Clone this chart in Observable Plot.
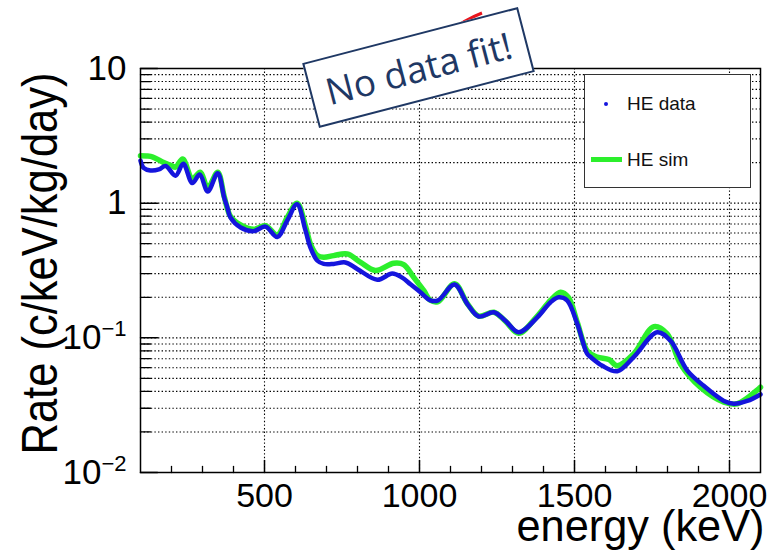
<!DOCTYPE html>
<html>
<head>
<meta charset="utf-8">
<script src="https://cdn.jsdelivr.net/npm/d3@7"></script>
<script src="https://cdn.jsdelivr.net/npm/@observablehq/plot@0.6"></script>
<style>
  body { margin: 0; background: #fff; }
  #chart { position: relative; width: 769px; height: 553px; overflow: hidden; font-family: "Liberation Sans", Arial, sans-serif; }
  #chart svg { display: block; }
  .legend { position: absolute; left: 584px; top: 74px; width: 165px; height: 112px; border: 1.5px solid #333; background: #fff; }
  .legend .row { position: absolute; left: 0; width: 100%; height: 24px; }
  .legend .lab { position: absolute; left: 42px; top: 0; line-height: 24px; font-size: 19px; color: #111; }
  .legend .dot { position: absolute; left: 19px; top: 10px; width: 4px; height: 4px; border-radius: 50%; background: #1515dd; }
  .legend .bar { position: absolute; left: 6px; top: 9px; width: 31px; height: 5px; background: #2cef2c; }
  .stamp { position: absolute; left: 307px; top: 34px; width: 219px; height: 63px; border: 2px solid #1f3864; background: #fff;
           transform: rotate(-14.6deg); color: #1f3864; font-family: "Open Sans", "Liberation Sans", sans-serif; font-size: 37px;
           display: flex; align-items: center; justify-content: center; }
  .peek { position: absolute; left: 0; top: 0; }
</style>
</head>
<body>
<div id="chart"></div>
<script>
// HE data: energy (keV) and rate (c/keV/kg/day)
const dataEnergy = [100, 110, 132, 159, 181, 213, 238, 267, 291, 317, 349, 370, 380, 390, 423, 465, 503, 541, 573, 605,
  632, 648, 670, 691, 723, 761, 799, 864, 912, 944, 971, 1003, 1035, 1060, 1113, 1154, 1191, 1240, 1277, 1320,
  1380, 1423, 1449, 1476, 1509, 1541, 1552, 1590, 1638, 1691, 1767, 1810, 1864, 1917, 1982, 2014, 2057, 2100];
const dataRate = [2.07, 1.83, 1.75, 1.78, 1.89, 1.60, 1.96, 1.41, 1.63, 1.22, 1.67, 1.10, 0.93, 0.785, 0.66, 0.62, 0.67, 0.56, 0.74, 0.98,
  0.63, 0.47, 0.375, 0.354, 0.354, 0.363, 0.325, 0.27, 0.30, 0.28, 0.25, 0.218, 0.19, 0.19, 0.249, 0.179, 0.144, 0.155, 0.134, 0.110,
  0.142, 0.184, 0.20, 0.19, 0.127, 0.076, 0.072, 0.062, 0.0565, 0.072, 0.110, 0.095, 0.057, 0.044, 0.034, 0.0324, 0.034, 0.038];

// HE simulation
const simEnergy = [100, 120, 140, 175, 200, 213, 236, 267, 293, 317, 349, 370, 390, 423, 465, 503, 541, 573, 605,
  632, 648, 670, 691, 723, 767, 810, 858, 917, 949, 982, 1014, 1035, 1060, 1113, 1154, 1191, 1240, 1277, 1320,
  1380, 1423, 1455, 1480, 1509, 1541, 1573, 1611, 1638, 1691, 1756, 1799, 1842, 1906, 1982, 2025, 2095, 2100];
const simRate = [2.25, 2.24, 2.20, 2.00, 1.90, 1.85, 2.13, 1.52, 1.70, 1.30, 1.70, 1.12, 0.80, 0.69, 0.64, 0.68, 0.58, 0.78, 1.00,
  0.68, 0.50, 0.41, 0.396, 0.408, 0.42, 0.363, 0.316, 0.358, 0.35, 0.28, 0.224, 0.19, 0.186, 0.252, 0.18, 0.145, 0.155, 0.133, 0.108,
  0.145, 0.19, 0.218, 0.20, 0.13, 0.080, 0.072, 0.069, 0.062, 0.076, 0.121, 0.107, 0.064, 0.043, 0.0333, 0.0324, 0.042, 0.043];

// Axis ticks
const yMajor = [0.01, 0.1, 1, 10];
const yLabels = ["10^-2", "10^-1", "1", "10"];
const yMinor = [2, 3, 4, 5, 6, 7, 8, 9].flatMap(m => [0.01, 0.1, 1].map(p => m * p));
const xMajor = [500, 1000, 1500, 2000];
const xMinor = d3.range(200, 2100, 100).filter(v => v % 500 !== 0);

const dataRows = dataEnergy.map((e, i) => ({e, r: dataRate[i]}));
const simRows = simEnergy.map((e, i) => ({e, r: simRate[i]}));

// short straight tick pointing along the vector direction
const tickShape = {draw(context, l) { context.moveTo(0, 0); context.lineTo(0, -l); }};

const dotted = {stroke: "#000", strokeWidth: 1.1, strokeDasharray: "1.4,2.2"};

const svg = Plot.plot({
  width: 769,
  height: 553,
  marginLeft: 140,
  marginRight: 9,
  marginTop: 68,
  marginBottom: 81,
  style: {fontFamily: "'Liberation Sans', Arial, sans-serif", color: "#000", background: "#fff"},
  x: {domain: [100, 2100], axis: null},
  y: {type: "log", domain: [0.01, 10], axis: null},
  marks: [
    Plot.ruleY([...yMinor, 0.1, 1], {...dotted}),
    Plot.ruleX(xMajor, {...dotted}),
    Plot.vector(yMinor, {y: d => d, frameAnchor: "left", rotate: 90, length: 10, anchor: "start", shape: tickShape, stroke: "#000", strokeWidth: 1.3}),
    Plot.vector(yMajor, {y: d => d, frameAnchor: "left", rotate: 90, length: 17, anchor: "start", shape: tickShape, stroke: "#000", strokeWidth: 1.5}),
    Plot.vector(xMinor, {x: d => d, frameAnchor: "bottom", rotate: 0, length: 6, anchor: "start", shape: tickShape, stroke: "#000", strokeWidth: 1.3}),
    Plot.vector(xMajor, {x: d => d, frameAnchor: "bottom", rotate: 0, length: 12, anchor: "start", shape: tickShape, stroke: "#000", strokeWidth: 1.5}),
    Plot.axisY(yMajor, {anchor: "left", tickSize: 0, tickPadding: 14, fontSize: 35, label: null,
      tickFormat: d => yLabels[yMajor.indexOf(d)]}),
    Plot.axisX(xMajor, {anchor: "bottom", tickSize: 0, tickPadding: 10, fontSize: 34, label: null, tickFormat: d => String(d)}),
    Plot.line(simRows, {x: "e", y: "r", stroke: "#2cef2c", strokeWidth: 5.5, curve: "catmull-rom", strokeLinejoin: "round"}),
    Plot.line(dataRows, {x: "e", y: "r", stroke: "#1515dd", strokeWidth: 4.5, curve: "catmull-rom", strokeLinejoin: "round"}),
    Plot.frame({stroke: "#000", strokeWidth: 1.5}),
    Plot.text(["energy (keV)"], {frameAnchor: "bottom-right", dx: 4, dy: 54, fontSize: 44, textAnchor: "end", lineAnchor: "middle",
      className: "xtitle"}),
    Plot.text(["Rate (c/keV/kg/day)"], {frameAnchor: "top-left", dx: -100, dy: 4, rotate: -90, fontSize: 50, textAnchor: "end", lineAnchor: "middle",
      className: "ytitle"})
  ]
});

// power-of-ten labels: base plus raised exponent
d3.select(svg).selectAll("text").each(function () {
  const t = this.textContent;
  if (!t.includes("^")) return;
  const [base, exp] = t.split("^");
  this.textContent = base;
  d3.select(this).append("tspan").attr("dy", "-13").attr("font-size", "22").text(exp.replace("-", "\u2212"));
});

// axis titles use a condensed set width
d3.select(svg).selectAll(".xtitle text").attr("textLength", 248).attr("lengthAdjust", "spacingAndGlyphs");
d3.select(svg).selectAll(".ytitle text").attr("textLength", 382).attr("lengthAdjust", "spacingAndGlyphs");

const chart = document.getElementById("chart");
chart.appendChild(svg);

// small red stroke peeking out behind the stamp
const peek = d3.select(chart).append("svg").attr("class", "peek").attr("width", 769).attr("height", 553);
peek.append("path").attr("d", "M446,34 Q464,20 482,13").attr("fill", "none").attr("stroke", "#e8141c").attr("stroke-width", 3);

const legend = d3.select(chart).append("div").attr("class", "legend");
const r1 = legend.append("div").attr("class", "row").style("top", "17px");
r1.append("div").attr("class", "dot");
r1.append("div").attr("class", "lab").text("HE data");
const r2 = legend.append("div").attr("class", "row").style("top", "73px");
r2.append("div").attr("class", "bar");
r2.append("div").attr("class", "lab").text("HE sim");

d3.select(chart).append("div").attr("class", "stamp").text("No data fit!");
</script>
</body>
</html>
